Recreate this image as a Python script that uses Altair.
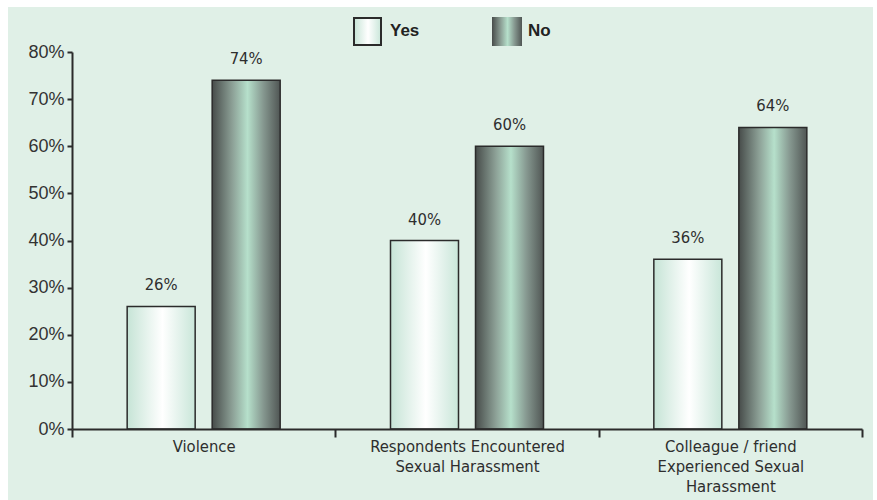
import altair as alt
import pandas as pd

# Survey results: share of respondents answering Yes / No
categories = [
    "Violence",
    "Respondents Encountered\nSexual Harassment",
    "Colleague / friend\nExperienced Sexual\nHarassment",
]
series = ["Yes", "No"]
yes_values = [26, 40, 36]
no_values = [74, 60, 64]
y_ticks = [0, 10, 20, 30, 40, 50, 60, 70, 80]

rows = []
for cat, yv, nv in zip(categories, yes_values, no_values):
    rows.append({"category": cat, "answer": "Yes", "value": yv})
    rows.append({"category": cat, "answer": "No", "value": nv})
df = pd.DataFrame(rows)

NARROW = "Liberation Sans Narrow, DejaVu Sans Condensed, Arial Narrow, sans-serif"
SANS = "Liberation Sans, Arial, Helvetica, sans-serif"
INK = "#2b2b2b"
PANEL = "#e0f0e7"

yes_fill = alt.Gradient(
    gradient="linear", x1=0, x2=1, y1=0, y2=0,
    stops=[
        alt.GradientStop(color="#c6e4d6", offset=0),
        alt.GradientStop(color="#ffffff", offset=0.52),
        alt.GradientStop(color="#c9e6d9", offset=1),
    ],
)
no_fill = alt.Gradient(
    gradient="linear", x1=0, x2=1, y1=0, y2=0,
    stops=[
        alt.GradientStop(color="#474c4a", offset=0),
        alt.GradientStop(color="#8da197", offset=0.3),
        alt.GradientStop(color="#b6e0cb", offset=0.52),
        alt.GradientStop(color="#869890", offset=0.75),
        alt.GradientStop(color="#505654", offset=1),
    ],
)

x_enc = alt.X(
    "category:N",
    sort=categories,
    scale=alt.Scale(paddingInner=0, paddingOuter=0),
    axis=alt.Axis(
        title=None,
        labelAngle=0,
        tickBand="extent",
        tickSize=8,
        tickWidth=2,
        tickColor=INK,
        domainColor=INK,
        domainWidth=2,
        labelFont=NARROW,
        labelFontSize=16.5,
        labelColor="#2e2e2e",
        labelPadding=1,
        labelLineHeight=20,
        labelBaseline="top",
        labelLimit=400,
        labelExpr="split(datum.label, '\\n')",
        zindex=2,
    ),
)
xoff_enc = alt.XOffset(
    "answer:N",
    sort=series,
    scale=alt.Scale(domain=series, paddingInner=0.2, paddingOuter=0.649),
)
y_enc = alt.Y(
    "value:Q",
    scale=alt.Scale(domain=[0, 80], nice=False),
    axis=alt.Axis(
        title=None,
        values=y_ticks,
        labelExpr="datum.value + '%'",
        grid=False,
        tickSize=5,
        tickWidth=2,
        tickColor=INK,
        domainColor=INK,
        domainWidth=2,
        labelFont=SANS,
        labelFontSize=18,
        labelColor="#333333",
        labelPadding=3,
        zindex=2,
    ),
)

base = alt.Chart(df)

panel = alt.Chart(pd.DataFrame({"k": [0]})).mark_rect(fill=PANEL).encode(
    x=alt.value(-64), x2=alt.value(801), y=alt.value(-45), y2=alt.value(448)
)

yes_bars = base.transform_filter(alt.datum.answer == "Yes").mark_bar(
    fill=yes_fill, stroke=INK, strokeWidth=1.5
).encode(x=x_enc, xOffset=xoff_enc, y=y_enc)

no_bars = base.transform_filter(alt.datum.answer == "No").mark_bar(
    fill=no_fill, stroke=INK, strokeWidth=1.5
).encode(x=x_enc, xOffset=xoff_enc, y=y_enc)

labels = base.transform_calculate(pct="datum.value + '%'").mark_text(
    baseline="bottom", dy=-13, font=NARROW, fontSize=16.5, color="#2e2e2e"
).encode(x=x_enc, xOffset=xoff_enc, y=y_enc, text="pct:N")

# Legend at the top: gradient swatches with their series names
legend_df = pd.DataFrame({"answer": series})
yes_swatch = alt.Chart(legend_df).transform_filter(alt.datum.answer == "Yes").mark_rect(
    fill=yes_fill, stroke=INK, strokeWidth=2
).encode(x=alt.value(282), x2=alt.value(309), y=alt.value(-34), y2=alt.value(-7))
no_swatch = alt.Chart(legend_df).transform_filter(alt.datum.answer == "No").mark_rect(
    fill=no_fill
).encode(x=alt.value(420), x2=alt.value(450), y=alt.value(-35), y2=alt.value(-6))
yes_text = alt.Chart(legend_df).transform_filter(alt.datum.answer == "Yes").mark_text(
    align="left", baseline="middle", font=SANS, fontSize=17, fontWeight="bold", color="#222222"
).encode(x=alt.value(318), y=alt.value(-21), text="answer:N")
no_text = alt.Chart(legend_df).transform_filter(alt.datum.answer == "No").mark_text(
    align="left", baseline="middle", font=SANS, fontSize=17, fontWeight="bold", color="#222222"
).encode(x=alt.value(456), y=alt.value(-21), text="answer:N")

chart = alt.layer(
    panel, yes_bars, no_bars, labels, yes_swatch, no_swatch, yes_text, no_text
).properties(
    width=790,
    height=377,
    autosize=alt.AutoSizeParams(type="none"),
    padding={"left": 72, "top": 52, "right": 15, "bottom": 71},
    background="white",
).configure_view(stroke=None)

chart.save("out.html", embed_options={"renderer": "svg", "actions": False})
